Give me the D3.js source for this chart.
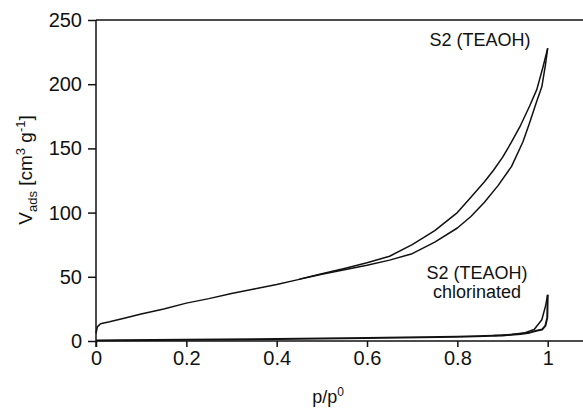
<!DOCTYPE html>
<html>
<head>
  <meta charset="utf-8">
  <title>Isotherm S2 (TEAOH)</title>
  <style>
  body { margin: 0; background: #fff; }
  svg { font-family: Arial, "Liberation Sans", sans-serif; }
  .curve { fill: none; stroke: #111; stroke-width: 1.5px; stroke-linejoin: round; }
  .curve.cl { stroke-width: 2px; }
  .axis text { font-size: 20px; fill: #111; }
  .axis line, .axis path, .frame { stroke: #111; stroke-width: 1.5px; }
  </style>
</head>
<body>
  <svg width="583" height="410"></svg>
  <script src="https://d3js.org/d3.v7.min.js"></script>
  <script>
  // data
  var xTicks = [0, 0.2, 0.4, 0.6, 0.8, 1];
  var xTickLabels = ["0", "0.2", "0.4", "0.6", "0.8", "1"];
  var yTicks = [0, 50, 100, 150, 200, 250];

  // S2 (TEAOH) adsorption branch
  var pAds = [0, 0.003, 0.01, 0.03, 0.06, 0.1, 0.15, 0.2, 0.25, 0.3, 0.35, 0.4, 0.45, 0.5, 0.55, 0.6, 0.65, 0.7, 0.75, 0.8, 0.83, 0.86, 0.89, 0.92, 0.945, 0.96, 0.975, 0.987, 0.995, 1.0];
  var vAds = [6, 11, 13.5, 15, 17.5, 21, 25, 29.5, 33, 37, 40.5, 44, 48, 52, 55.5, 59, 63, 68, 77, 88, 97, 108, 121, 136, 155, 170, 186, 198, 215, 228];
  // S2 (TEAOH) desorption branch
  var pDes = [1.0, 0.99, 0.976, 0.96, 0.94, 0.92, 0.9, 0.88, 0.86, 0.83, 0.8, 0.75, 0.7, 0.65, 0.6, 0.55, 0.5, 0.45];
  var vDes = [228, 214, 196, 183, 168, 155, 143, 133, 124, 112, 100, 86, 75, 66, 61, 56.5, 52.3, 48.2];

  // S2 (TEAOH) chlorinated
  var pAdsCl = [0, 0.05, 0.2, 0.4, 0.6, 0.8, 0.9, 0.94, 0.96, 0.975, 0.988, 0.995, 0.999, 1.0];
  var vAdsCl = [0.3, 0.5, 1, 1.5, 2.3, 3.3, 4.3, 5.5, 6.5, 8, 9, 12, 18, 36];
  var pDesCl = [1.0, 0.995, 0.987, 0.97, 0.95, 0.92, 0.88];
  var vDesCl = [36, 27, 16.5, 9, 6.5, 5, 4.2];

  var svg = d3.select("svg");
  var x = d3.scaleLinear().domain([0, 1]).range([96, 547.7]);
  var y = d3.scaleLinear().domain([0, 250]).range([341, 20]);

  function pts(ps, vs) { return ps.map(function(p, i) { return [p, vs[i]]; }); }
  var line = d3.line().x(function(d) { return x(d[0]); }).y(function(d) { return y(d[1]); });

  // frame lines
  svg.append("line").attr("class", "frame").attr("x1", 96).attr("x2", 583).attr("y1", y(250)).attr("y2", y(250));
  svg.append("line").attr("class", "frame").attr("x1", 96).attr("x2", 583).attr("y1", y(0)).attr("y2", y(0));

  var gx = svg.append("g").attr("class", "axis")
    .attr("transform", "translate(0," + y(0) + ")")
    .call(d3.axisBottom(x).tickValues(xTicks).tickSize(6).tickSizeOuter(0).tickPadding(4)
      .tickFormat(function(d, i) { return xTickLabels[i]; }));
  gx.select(".domain").remove();

  var gy = svg.append("g").attr("class", "axis")
    .attr("transform", "translate(" + x(0) + ",0)")
    .call(d3.axisLeft(y).tickValues(yTicks).tickSize(8).tickSizeOuter(0).tickPadding(6));
  gy.select(".domain").remove();
  svg.append("line").attr("class", "frame").attr("x1", x(0)).attr("x2", x(0)).attr("y1", y(250)).attr("y2", y(0) + 6);

  // curves
  svg.append("path").attr("class", "curve").attr("d", line(pts(pAds, vAds)));
  svg.append("path").attr("class", "curve").attr("d", line(pts(pDes, vDes)));
  svg.append("path").attr("class", "curve cl").attr("d", line(pts(pAdsCl, vAdsCl)));
  svg.append("path").attr("class", "curve").attr("d", line(pts(pDesCl, vDesCl)));

  // annotations
  svg.append("text").attr("x", 480).attr("y", 46).attr("text-anchor", "middle")
    .attr("font-size", 18).attr("fill", "#111").text("S2 (TEAOH)");
  svg.append("text").attr("x", 477).attr("y", 279).attr("text-anchor", "middle")
    .attr("font-size", 18).attr("fill", "#111").text("S2 (TEAOH)");
  svg.append("text").attr("x", 477).attr("y", 298).attr("text-anchor", "middle")
    .attr("font-size", 18).attr("fill", "#111").text("chlorinated");

  // axis titles
  var xt = svg.append("text").attr("x", 328).attr("y", 403).attr("text-anchor", "middle")
    .attr("font-size", 18).attr("fill", "#111");
  xt.append("tspan").text("p/p");
  xt.append("tspan").attr("font-size", 12).attr("dy", -7).text("0");

  var yt = svg.append("text").attr("transform", "translate(32,170) rotate(-90)")
    .attr("text-anchor", "middle").attr("font-size", 19).attr("fill", "#111");
  yt.append("tspan").text("V");
  yt.append("tspan").attr("font-size", 13).attr("dy", 5).text("ads");
  yt.append("tspan").attr("dy", -5).text(" [cm");
  yt.append("tspan").attr("font-size", 13).attr("dy", -7).text("3");
  yt.append("tspan").attr("dy", 7).text(" g");
  yt.append("tspan").attr("font-size", 13).attr("dy", -7).text("-1");
  yt.append("tspan").attr("dy", 7).text("]");
  </script>
</body>
</html>
